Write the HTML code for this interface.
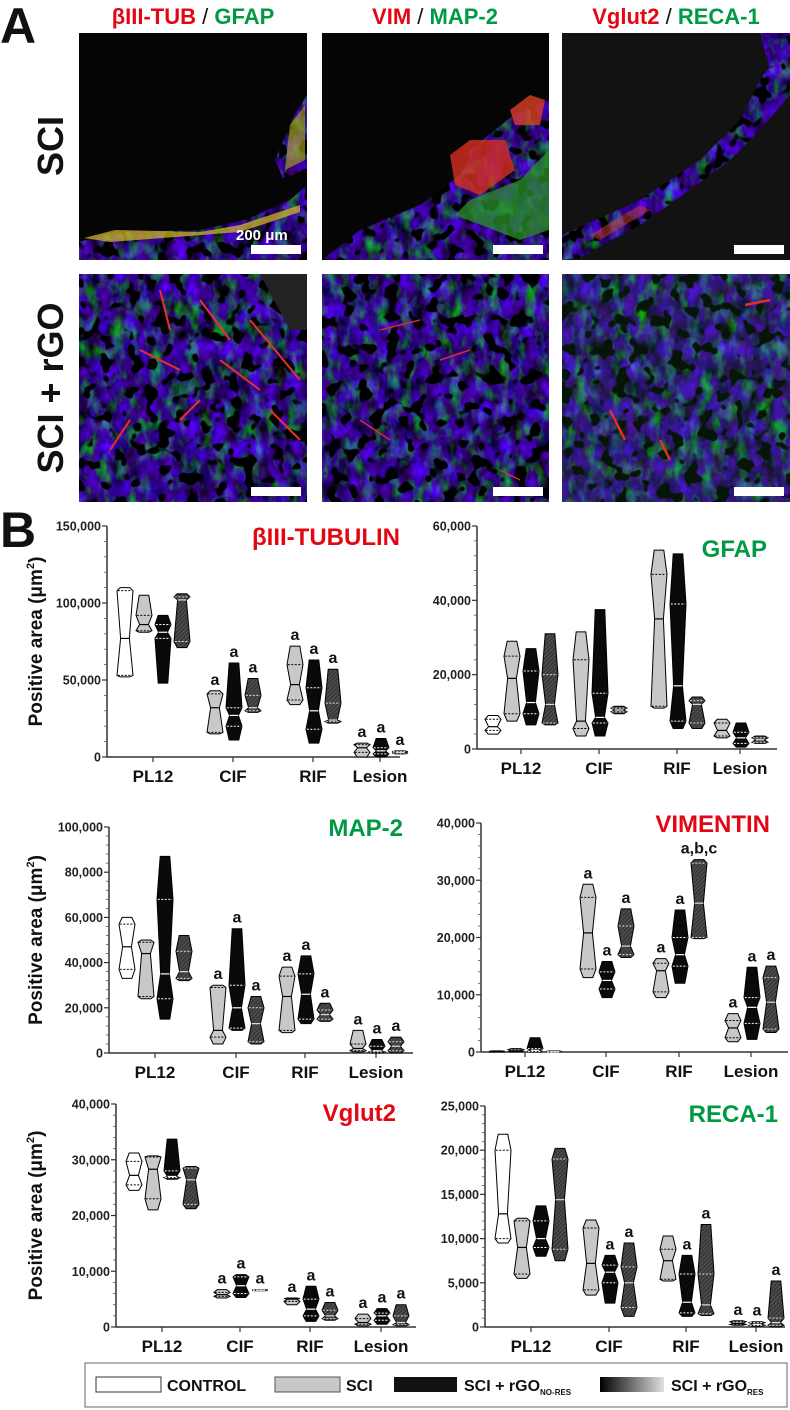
<!DOCTYPE html>
<html><head><meta charset="utf-8"><style>
html,body{margin:0;padding:0;background:#fff;}
svg{display:block;font-family:"Liberation Sans",Arial,sans-serif;}
</style></head><body>
<svg id="fig" width="790" height="1410" viewBox="0 0 790 1410" xmlns="http://www.w3.org/2000/svg">
<defs>
<filter id="tis" color-interpolation-filters="sRGB" x="0" y="0" width="1" height="1">
 <feTurbulence type="fractalNoise" baseFrequency="0.08 0.05" numOctaves="3" seed="3" result="n"/>
 <feColorMatrix in="n" type="matrix" values="0 0.5 0 0 -0.08  1.3 -0.8 0 0 -0.18  0 1.3 -0.5 0 0.08  0 0 0 0 1" result="c"/>
 <feTurbulence type="fractalNoise" baseFrequency="0.07" numOctaves="2" seed="9" result="h"/>
 <feColorMatrix in="h" type="matrix" values="0 0 0 0 0  0 0 0 0 0  0 0 0 0 0  -14 0 0 0 6.1" result="holes"/>
 <feComposite in="holes" in2="c" operator="over" result="t"/>
 <feComposite in="t" in2="SourceGraphic" operator="in"/>
</filter>
<pattern id="hatch" width="3" height="3" patternUnits="userSpaceOnUse" patternTransform="rotate(45)">
 <rect width="3" height="3" fill="#3a3a3a"/><line x1="0" y1="0" x2="0" y2="3" stroke="#6a6a6a" stroke-width="1"/>
</pattern>
<linearGradient id="resgrad" x1="0" x2="1" y1="0" y2="0"><stop offset="0" stop-color="#000"/><stop offset="1" stop-color="#e0e0e0"/></linearGradient>
</defs>

<!-- Panel A -->
<text x="0" y="43" font-size="50" font-weight="bold" fill="#111">A</text>
<text x="193" y="24" font-size="22" font-weight="bold" text-anchor="middle"><tspan fill="#e30613">βIII-TUB</tspan><tspan fill="#111" font-weight="normal"> / </tspan><tspan fill="#009a44">GFAP</tspan></text>
<text x="435" y="24" font-size="22" font-weight="bold" text-anchor="middle"><tspan fill="#e30613">VIM</tspan><tspan fill="#111" font-weight="normal"> / </tspan><tspan fill="#009a44">MAP-2</tspan></text>
<text x="676" y="24" font-size="22" font-weight="bold" text-anchor="middle"><tspan fill="#e30613">Vglut2</tspan><tspan fill="#111" font-weight="normal"> / </tspan><tspan fill="#009a44">RECA-1</tspan></text>
<text transform="translate(63,146) rotate(-90)" font-size="36" font-weight="bold" text-anchor="middle" fill="#111">SCI</text>
<text transform="translate(63,388) rotate(-90)" font-size="36" font-weight="bold" text-anchor="middle" fill="#111">SCI + rGO</text>

<g>
 <rect x="79" y="33" width="228" height="227" fill="#050505"/>
 <polygon points="79,242 115,232 200,230 245,220 290,200 307,185 307,260 79,260" fill="#fff" filter="url(#tis)"/>
 <polygon points="84,238 115,230 200,232 240,225 300,205 300,212 240,232 110,242" fill="#d8c020" opacity="0.7"/>
 <polygon points="292,120 307,95 307,170 283,178 275,160" fill="#fff" filter="url(#tis)"/>
 <polygon points="290,125 305,105 305,160 285,170" fill="#b8b020" opacity="0.6"/>
 <rect x="251" y="245" width="50" height="9" fill="#fff"/>
 <text x="236" y="240" font-size="15" font-weight="bold" fill="#fff">200 μm</text>
</g>
<g>
 <rect x="322" y="33" width="227" height="227" fill="#050505"/>
 <polygon points="322,260 360,230 420,205 460,175 470,150 520,110 549,100 549,260" fill="#fff" filter="url(#tis)"/>
 <polygon points="455,215 520,240 549,230 549,150 520,180 470,200" fill="#2a9028" opacity="0.75"/>
 <polygon points="450,155 470,140 505,140 515,170 480,195 455,185" fill="#d83020" opacity="0.8"/>
 <polygon points="510,110 530,95 545,100 540,125 515,125" fill="#d84020" opacity="0.8"/>
 <rect x="493" y="245" width="50" height="9" fill="#fff"/>
</g>
<g>
 <rect x="562" y="33" width="228" height="227" fill="#121212"/>
 <polygon points="562,235 640,200 700,160 740,120 760,80 790,40 790,95 760,130 730,160 690,190 640,225 580,258 562,260" fill="#fff" filter="url(#tis)"/>
 <polygon points="760,33 790,33 790,60 770,70" fill="#fff" filter="url(#tis)"/>
 <polygon points="590,235 640,205 650,210 600,240" fill="#d04030" opacity="0.5"/>
 <rect x="734" y="245" width="50" height="9" fill="#fff"/>
</g>
<g>
 <rect x="79" y="274" width="228" height="228" fill="#fff" filter="url(#tis)"/>
 <polygon points="260,274 307,274 307,330 290,330" fill="#222"/>
 <path d="M160,290 L170,330 M140,350 L180,370 M200,300 L230,340 M250,320 L300,380 M110,450 L130,420 M180,420 L200,400 M270,410 L300,440 M220,360 L260,390" stroke="#e8302a" stroke-width="2" fill="none"/>
 <rect x="251" y="487" width="50" height="9" fill="#fff"/>
</g>
<g>
 <rect x="322" y="274" width="227" height="228" fill="#fff" filter="url(#tis)"/>
 <path d="M380,330 L420,320 M440,360 L470,350 M360,420 L390,440 M500,470 L520,480" stroke="#d03028" stroke-width="1.5" fill="none"/>
 <rect x="493" y="487" width="50" height="9" fill="#fff"/>
</g>
<g>
 <rect x="562" y="274" width="228" height="228" fill="#fff" filter="url(#tis)"/>
 <rect x="562" y="274" width="228" height="228" fill="#2a8a30" opacity="0.15"/>
 <path d="M610,410 L625,440 M660,440 L670,460 M745,305 L770,300" stroke="#e03028" stroke-width="2.5" fill="none"/>
 <rect x="734" y="487" width="50" height="9" fill="#fff"/>
</g>

<!-- Panel B -->
<text x="0" y="547" font-size="50" font-weight="bold" fill="#111">B</text>
<g id="charts"></g>

<!-- Legend -->
<g>
 <rect x="85" y="1363" width="702" height="44" fill="#fff" stroke="#666" stroke-width="1"/>
 <rect x="96" y="1377" width="65" height="15" fill="#fff" stroke="#333"/>
 <text x="167" y="1391" font-size="16" font-weight="bold" fill="#111">CONTROL</text>
 <rect x="275" y="1377" width="65" height="15" fill="#c8c8c8" stroke="#555"/>
 <text x="346" y="1391" font-size="16" font-weight="bold" fill="#111">SCI</text>
 <rect x="394" y="1377" width="63" height="15" fill="#111"/>
 <text x="464" y="1391" font-size="16" font-weight="bold" fill="#111">SCI + rGO<tspan font-size="8" dy="4">NO-RES</tspan></text>
 <rect x="600" y="1377" width="64" height="15" fill="url(#resgrad)"/>
 <text x="671" y="1391" font-size="16" font-weight="bold" fill="#111">SCI + rGO<tspan font-size="8" dy="4">RES</tspan></text>
</g>
</svg>
<script>
// ---- data (values in thousands of µm²), each entry [min,q1,median,q3,max] per category PL12,CIF,RIF,Lesion
const categories = ['PL12','CIF','RIF','Lesion'];

const tubTicks = [0,50,100,150];
const tubControl = [[52,53,77,108,110], null, null, null];
const tubSCI     = [[81,82,86,92,105],[15,16,32,41,43],[34,37,47,60,72],[0,3,6,8,9]];
const tubNoRes   = [[48,77,81,86,92],[11,20,27,32,61],[9,18,30,45,63],[0,2,4,6,12]];
const tubRes     = [[71,75,102,104,106],[29,30,32,40,51],[22,23,24,35,57],[2,2.5,3,3.5,4]];
const tubLetters = [['','','',''],['','a','a','a'],['','a','a','a'],['','a','a','a']];

const gfapTicks = [0,20,40,60];
const gfapControl = [[4,5,6,8,9], null, null, null];
const gfapSCI     = [[7.5,9.5,19,25,29],[3.5,5.5,7.5,24,31.5],[11,11.5,35,47,53.5],[3,3.5,5,7,8]];
const gfapNoRes   = [[6.5,9.5,12.5,21,27],[3.5,7,8.5,15,37.5],[5.5,7.5,17,39,52.5],[0.5,1.5,3,4.5,7]];
const gfapRes     = [[6.5,7,12,20,31],[9.5,10,10.5,11,11.5],[5.5,7,12,13,14],[1.5,1.8,2.5,3,3.5]];
const gfapLetters = [['','','',''],['','','',''],['','','',''],['','','','']];

const mapTicks = [0,20,40,60,80,100];
const mapControl = [[33,37,47,57,60], null, null, null];
const mapSCI     = [[24,25,44,49,50],[4,7,10,29,30],[9,10,25,34,38],[0.5,1,2,4,10]];
const mapNoRes   = [[15,24,35,68,87],[10,11,20,30,55],[13,15,26,35,43],[0,0.5,1,3,6]];
const mapRes     = [[32,33,36,45,52],[4,5,13,20,25],[14,15,17,19,22],[0,1,3,5,7]];
const mapLetters = [['','','',''],['','a','a','a'],['','a','a','a'],['','a','a','a']];

const vimTicks = [0,10,20,30,40];
const vimControl = [[0,0,0.05,0.1,0.2], null, null, null];
const vimSCI     = [[0,0.05,0.2,0.4,0.6],[13,14.5,20.8,27,29.3],[9.5,10.5,14.2,15.5,16.3],[1.8,2.5,4.2,5.5,6.7]];
const vimNoRes   = [[0,0.1,0.3,0.6,2.5],[9.5,11,12.5,14,15.8],[12,15,17,20,24.8],[2.2,5,7.8,9.5,14.8]];
const vimRes     = [[0,0,0.05,0.1,0.2],[16.5,17,18.5,22,25],[19.8,20,26,33,33.6],[3.4,4,8.7,13,15]];
const vimLetters = [['','','',''],['','a','a','a'],['','a','a','a,b,c'],['','a','a','a']];

const vgTicks = [0,10,20,30,40];
const vgControl = [[24.5,25.5,27.2,29.7,31.2], null, null, null];
const vgSCI     = [[21,23,28.3,30.5,30.7],[5.2,5.5,5.8,6.2,6.7],[4,4.6,5,5.1,5.2],[0.2,0.5,0.8,1.5,2.3]];
const vgNoRes   = [[26.5,26.8,27,28,33.7],[5.3,6,7.4,9,9.4],[1,2,3.2,5,7.3],[0.5,1.2,2,2.5,3.3]];
const vgRes     = [[21.2,22,26.4,28.5,28.8],[6.5,6.55,6.6,6.65,6.7],[1.2,1.5,2,3,4.4],[0.2,0.4,0.8,2,4]];
const vgLetters = [['','','',''],['','a','a','a'],['','a','a','a'],['','a','a','a']];

const recaTicks = [0,5,10,15,20,25];
const recaControl = [[9.5,10,12.8,20,21.8], null, null, null];
const recaSCI     = [[5.5,6,9,12,12.3],[3.6,4.2,7.2,11.2,12.1],[5.2,5.4,7.5,8.8,10.3],[0.2,0.3,0.4,0.6,0.7]];
const recaNoRes   = [[8,9,10,12,13.7],[2.7,5,6.2,7,8.1],[1.2,1.6,2.8,6,8.1],[0.1,0.2,0.3,0.5,0.6]];
const recaRes     = [[7.5,8.8,14.4,19,20.2],[1.2,2.2,5,6.8,9.5],[1.3,1.5,2.5,6,11.6],[0,0.2,0.5,1,5.2]];
const recaLetters = [['','','',''],['','','a','a'],['','','a','a'],['','a','a','a']];

// ---- rendering
const NS = 'http://www.w3.org/2000/svg';
const root = document.getElementById('charts');
function mk(tag, attrs, parent){ const e=document.createElementNS(NS,tag); for(const k in attrs) e.setAttribute(k,attrs[k]); (parent||root).appendChild(e); return e; }
const fills = ['#ffffff','#c8c8c8','#0a0a0a','url(#hatch)'];
const lineCol = ['#000','#000','#fff','#ddd'];
const seriesNames = ['control','sci','rgo-no-res','rgo-res'];

function drawChart(L, title, titleColor, ticks, series, letters, key, yTitle){
  const g = mk('g',{});
  
  
  const tMax = ticks[ticks.length-1];
  const y = v => L.yBot - v/tMax*(L.yBot-L.yTop);
  const ax = mk('line',{x1:L.x0,y1:L.yTop,x2:L.x0,y2:L.yBot,stroke:'#333','stroke-width':1.5},g);
  
  
  const xx = mk('line',{x1:L.x0,y1:L.yBot,x2:L.right,y2:L.yBot,stroke:'#333','stroke-width':1.5},g);
  
  
  for(let i=0;i<ticks.length;i++){
    const ty=y(ticks[i]);
    mk('line',{x1:L.x0-5,y1:ty,x2:L.x0,y2:ty,stroke:'#333','stroke-width':1.2},g);
    const t=mk('text',{x:L.x0-6,y:ty+4.5,'font-size':12.5,'font-weight':'bold','text-anchor':'end',fill:'#222'},g);
    t.textContent = (ticks[i]*1000).toLocaleString('en-US');
    
    
    if(i<ticks.length-1){
      for(let m=1;m<5;m++){ const my=y(ticks[i]+(ticks[i+1]-ticks[i])*m/5); mk('line',{x1:L.x0-3,y1:my,x2:L.x0,y2:my,stroke:'#555','stroke-width':0.8},g); }
    }
  }
  categories.forEach((c,ci)=>{
    const cx=L.cat[ci];
    mk('line',{x1:cx,y1:L.yBot,x2:cx,y2:L.yBot+5,stroke:'#333','stroke-width':1.2},g);
    const t=mk('text',{x:cx,y:L.yBot+25,'font-size':17,'font-weight':'bold','text-anchor':'middle',fill:'#111'},g);
    t.textContent=c;
    
    
    const present = series.map(s=>s[ci]).filter(Boolean).length;
    const offs = present===4 ? [-28,-9,10,29] : [0,-18,1,20];
    series.forEach((s,si)=>{
      const d=s[ci]; if(!d) return;
      const vx=cx+offs[si], w=8;
      const [mn,q1,md,q3,mx]=d.map(y);
      const p = `M${vx-w*0.6},${mx} L${vx+w*0.6},${mx} L${vx+w},${q3} L${vx+w*0.55},${md} L${vx+w},${q1} L${vx+w*0.6},${mn} L${vx-w*0.6},${mn} L${vx-w},${q1} L${vx-w*0.55},${md} L${vx-w},${q3} Z`;
      const v=mk('path',{d:p,fill:fills[si],stroke:'#000','stroke-width':1},g);
      
      
      mk('line',{x1:vx-w*0.55,y1:md,x2:vx+w*0.55,y2:md,stroke:lineCol[si],'stroke-width':1.2},g);
      mk('line',{x1:vx-w*0.9,y1:q1,x2:vx+w*0.9,y2:q1,stroke:lineCol[si],'stroke-width':1,'stroke-dasharray':'2,1.5'},g);
      mk('line',{x1:vx-w*0.9,y1:q3,x2:vx+w*0.9,y2:q3,stroke:lineCol[si],'stroke-width':1,'stroke-dasharray':'2,1.5'},g);
      const lt = letters[ci][si];
      if(lt){
        const a=mk('text',{x:vx,y:mx-6,'font-size':16,'font-weight':'bold','text-anchor':'middle',fill:'#111'},g);
        a.textContent=lt;
        
        
      }
    });
  });
  const tt=mk('text',{x:L.titleX,y:L.titleY,'font-size':24,'font-weight':'bold','text-anchor':'end',fill:titleColor},g);
  tt.textContent=title;
  
  
  if(yTitle){
    const yt=mk('text',{transform:`translate(42,${(L.yTop+L.yBot)/2}) rotate(-90)`,'font-size':19,'font-weight':'bold','text-anchor':'middle',fill:'#111'},g);
    yt.innerHTML='Positive area (μm<tspan font-size="11" dy="-8">2</tspan><tspan dy="8">)</tspan>';
    
    
  }
}

drawChart({x0:107,right:400,yTop:526,yBot:757,cat:[153,233,313,380],titleX:400,titleY:545},'βIII-TUBULIN','#e30613',tubTicks,[tubControl,tubSCI,tubNoRes,tubRes],tubLetters,'tubulin',true);
drawChart({x0:477,right:777,yTop:526,yBot:749,cat:[521,599,677,740],titleX:767,titleY:557},'GFAP','#009a44',gfapTicks,[gfapControl,gfapSCI,gfapNoRes,gfapRes],gfapLetters,'gfap',false);
drawChart({x0:109,right:413,yTop:827,yBot:1053,cat:[155,236,305,376],titleX:403,titleY:836},'MAP-2','#009a44',mapTicks,[mapControl,mapSCI,mapNoRes,mapRes],mapLetters,'map2',true);
drawChart({x0:481,right:788,yTop:823,yBot:1052,cat:[525,606,679,751],titleX:770,titleY:832},'VIMENTIN','#e30613',vimTicks,[vimControl,vimSCI,vimNoRes,vimRes],vimLetters,'vimentin',false);
drawChart({x0:116,right:416,yTop:1104,yBot:1327,cat:[162,240,310,381],titleX:396,titleY:1121},'Vglut2','#e30613',vgTicks,[vgControl,vgSCI,vgNoRes,vgRes],vgLetters,'vglut2',true);
drawChart({x0:485,right:785,yTop:1106,yBot:1327,cat:[531,609,686,756],titleX:778,titleY:1122},'RECA-1','#009a44',recaTicks,[recaControl,recaSCI,recaNoRes,recaRes],recaLetters,'reca1',false);
</script>
</body></html>
